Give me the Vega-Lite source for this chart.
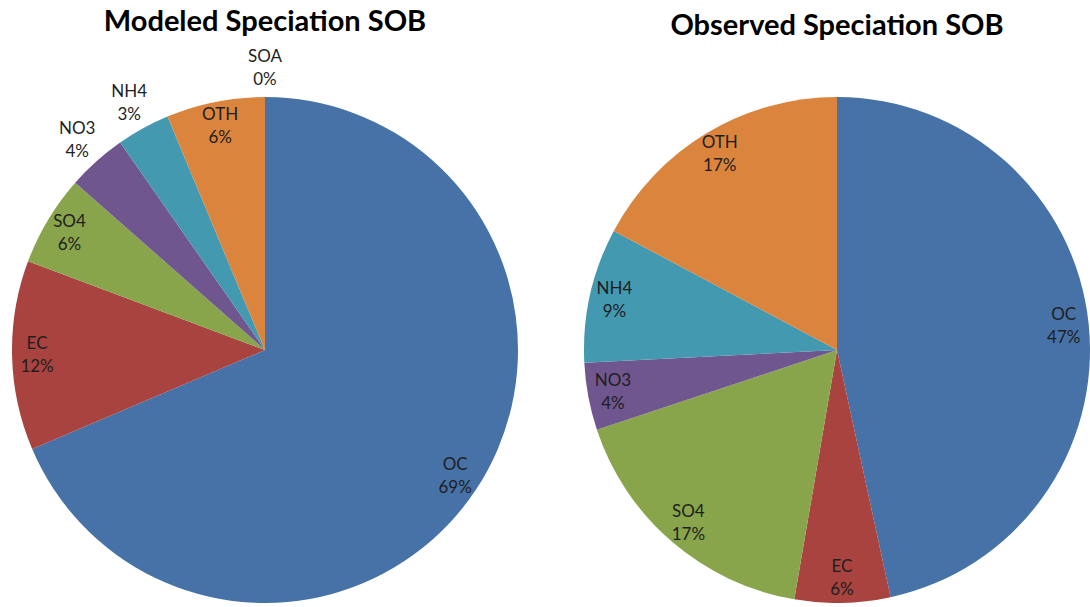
{
  "$schema": "https://vega.github.io/schema/vega-lite/v6.json",
  "usermeta": {"embedOptions": {"actions": false}},
  "background": "white",
  "padding": {"left": 12, "top": 8, "right": 0, "bottom": 0},
  "config": {
    "view": {"stroke": null},
    "font": "Lato",
    "concat": {"spacing": 66},
    "title": {"font": "Lato", "fontSize": 29, "fontWeight": "bold", "color": "#000000", "anchor": "middle"}
  },
  "datasets": {
    "modeled": [
      {"idx": 1, "species": "OC", "share": 68.6},
      {"idx": 2, "species": "EC", "share": 12.1},
      {"idx": 3, "species": "SO4", "share": 5.8},
      {"idx": 4, "species": "NO3", "share": 3.8},
      {"idx": 5, "species": "NH4", "share": 3.4},
      {"idx": 6, "species": "OTH", "share": 6.3},
      {"idx": 7, "species": "SOA", "share": 0}
    ],
    "observed": [
      {"idx": 1, "species": "OC", "share": 46.6},
      {"idx": 2, "species": "EC", "share": 6.1},
      {"idx": 3, "species": "SO4", "share": 17.2},
      {"idx": 4, "species": "NO3", "share": 4.3},
      {"idx": 5, "species": "NH4", "share": 8.6},
      {"idx": 6, "species": "OTH", "share": 17.2}
    ]
  },
  "hconcat": [
    {
      "width": 506,
      "height": 506,
      "title": {"text": "Modeled Speciation SOB", "offset": 11},
      "data": {"name": "modeled"},
      "transform": [
        {"calculate": "datum.species + '\\n' + format(datum.share / 100, '.0%')", "as": "label"}
      ],
      "encoding": {
        "theta": {"field": "share", "type": "quantitative", "stack": true},
        "order": {"field": "idx", "type": "quantitative"}
      },
      "layer": [
        {
          "mark": {"type": "arc", "radius": 253, "stroke": null},
          "encoding": {
            "color": {
              "field": "species", "type": "nominal", "legend": null,
              "scale": {
                "domain": ["OC", "EC", "SO4", "NO3", "NH4", "OTH", "SOA"],
                "range": ["#4672A8", "#A8433F", "#89A54C", "#70568E", "#4299B0", "#DA843D", "#93A9CF"]
              }
            }
          }
        },
        {
          "mark": {"type": "text", "radius": {"expr": "datum.share < 5 ? 282 : 228"}, "fontSize": 17, "lineBreak": "\n", "lineHeight": 23, "dy": -11, "color": "#1e1e1e", "baseline": "middle", "align": "center"},
          "encoding": {
            "detail": {"field": "species"},
            "text": {"field": "label"}
          }
        }
      ]
    },
    {
      "width": 506,
      "height": 506,
      "title": {"text": "Observed Speciation SOB", "offset": 56},
      "data": {"name": "observed"},
      "transform": [
        {"calculate": "datum.species + '\\n' + format(datum.share / 100, '.0%')", "as": "label"}
      ],
      "encoding": {
        "theta": {"field": "share", "type": "quantitative", "stack": true},
        "order": {"field": "idx", "type": "quantitative"}
      },
      "layer": [
        {
          "mark": {"type": "arc", "radius": 253, "stroke": null},
          "encoding": {
            "color": {
              "field": "species", "type": "nominal", "legend": null,
              "scale": {
                "domain": ["OC", "EC", "SO4", "NO3", "NH4", "OTH", "SOA"],
                "range": ["#4672A8", "#A8433F", "#89A54C", "#70568E", "#4299B0", "#DA843D", "#93A9CF"]
              }
            }
          }
        },
        {
          "mark": {"type": "text", "radius": 228, "fontSize": 17, "lineBreak": "\n", "lineHeight": 23, "dy": -11, "color": "#1e1e1e", "baseline": "middle", "align": "center"},
          "encoding": {
            "detail": {"field": "species"},
            "text": {"field": "label"}
          }
        }
      ]
    }
  ]
}
